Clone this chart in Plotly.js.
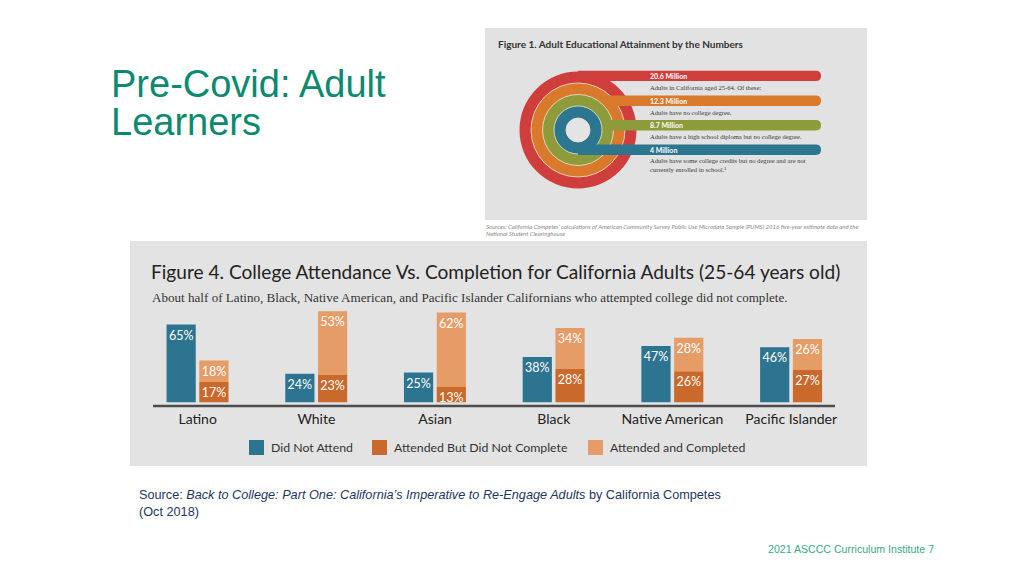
<!DOCTYPE html>
<html>
<head>
<meta charset="utf-8">
<script src="https://cdn.plot.ly/plotly-3.0.1.min.js"></script>
<style>
  html, body { margin: 0; padding: 0; background: #ffffff; }
  #chart { width: 1024px; height: 576px; }
</style>
</head>
<body>
<div id="chart"></div>
<script>
// ---------- Data: Figure 4 ----------
const categories = ['Latino', 'White', 'Asian', 'Black', 'Native American', 'Pacific Islander'];
const didNotAttend = [65, 24, 25, 38, 47, 46];
const attendedNotComplete = [17, 23, 13, 28, 26, 27];
const attendedCompleted = [18, 53, 62, 34, 28, 26];
const seriesNames = ['Did Not Attend', 'Attended But Did Not Complete', 'Attended and Completed'];

// ---------- Data: Figure 1 ----------
const fig1Amounts = ['20.6 Million', '12.3 Million', '8.7 Million', '4 Million'];
const fig1Descriptions = [
  'Adults in California aged 25-64. Of these:',
  'Adults have no college degree.',
  'Adults have a high school diploma but no college degree.',
  'Adults have some college credits but no degree and are not<br>currently enrolled in school.\u00b9'
];

// ---------- Text ----------
const slideTitle = ['Pre-Covid: Adult', 'Learners'];
const fig4Title = 'Figure 4. College Attendance Vs. Completion for California Adults (25-64 years old)';
const fig4Subtitle = 'About half of Latino, Black, Native American, and Pacific Islander Californians who attempted college did not complete.';
const fig1Title = 'Figure 1. Adult Educational Attainment by the Numbers';
const fig1Sources = [
  "Sources: California Competes\u2019 calculations of American Community Survey Public Use Microdata Sample (PUMS) 2016 five-year estimate data and the",
  'National Student Clearinghouse'
];
const sourceLine1 = 'Source: <i>Back to College: Part One: California\u2019s Imperative to Re-Engage Adults</i> by California Competes';
const sourceLine2 = '(Oct 2018)';
const footer = '2021 ASCCC Curriculum Institute 7';

// ---------- Styles ----------
const W = 1024, H = 576;
const X = p => p / W;
const Y = p => 1 - p / H;
const cBlue = '#2d7491', cDark = '#c9692b', cLight = '#e59c66';
const ringColors = ['#cf3d3d', '#d9792b', '#8d9b3b', '#2c7690'];
const figFont = 'Lato, "Open Sans", sans-serif';
const teal = '#0b8a70';

const pct = arr => arr.map(v => v + '%');
const barText = {
  textposition: 'inside', insidetextanchor: 'end', textangle: 0, constraintext: 'none',
  textfont: { family: figFont, size: 12.5, color: '#ffffff' }, hoverinfo: 'skip'
};

const traces = [
  Object.assign({
    type: 'bar', name: seriesNames[0], x: categories, y: didNotAttend, text: pct(didNotAttend),
    offset: -0.262, width: 0.246, marker: { color: cBlue, line: { width: 0 } }
  }, barText),
  Object.assign({
    type: 'bar', name: seriesNames[1], x: categories, y: attendedNotComplete, text: pct(attendedNotComplete),
    offset: 0.014, width: 0.246, marker: { color: cDark, line: { width: 0 } }
  }, barText),
  Object.assign({
    type: 'bar', name: seriesNames[2], x: categories, y: attendedCompleted, base: attendedNotComplete,
    text: pct(attendedCompleted),
    offset: 0.014, width: 0.246, marker: { color: cLight, line: { width: 0 } }
  }, barText)
];

// ---------- Shapes ----------
const shapes = [];
const rect = (x0, y0, x1, y1, color, extra) => Object.assign({
  type: 'rect', xref: 'paper', yref: 'paper', x0: X(x0), x1: X(x1), y0: Y(y0), y1: Y(y1),
  fillcolor: color, line: { width: 0 }, layer: 'below'
}, extra || {});

// Figure boxes
shapes.push(rect(485, 28, 867, 220, '#e2e2e2'));
shapes.push(rect(130, 241, 867, 466, '#e3e3e3'));

// Figure 1 rings and bars
const cx = 578, cy = 130;
const radii = [58.5, 47, 35.5, 24];
const barTops = [70.7, 95.6, 120, 144.5];
const barH = 10.4, barEnd = 821;
const circle = (r, color, lineColor) => ({
  type: 'circle', xref: 'paper', yref: 'paper',
  x0: X(cx - r), x1: X(cx + r), y0: Y(cy - r), y1: Y(cy + r),
  fillcolor: color, line: { width: lineColor ? 0.8 : 0, color: lineColor || color }, layer: 'below'
});
const roundedBar = (top, color) => {
  const bot = top + barH, rr = barH / 2;
  const p = (x, y) => X(x) + ',' + Y(y);
  return {
    type: 'path', xref: 'paper', yref: 'paper', layer: 'below',
    path: 'M' + p(cx, top) + ' L' + p(barEnd - rr, top) + ' Q' + p(barEnd, top) + ' ' + p(barEnd, top + rr) +
          ' Q' + p(barEnd, bot) + ' ' + p(barEnd - rr, bot) + ' L' + p(cx, bot) + ' Z',
    fillcolor: color, line: { width: 0 }
  };
};
for (let i = 0; i < radii.length; i++) {
  shapes.push(circle(radii[i], ringColors[i], i > 0 ? '#efe6da' : null));
  shapes.push(roundedBar(barTops[i], ringColors[i]));
}
shapes.push(circle(12, '#e4e4e4', '#efe6da'));

// Baseline
shapes.push({
  type: 'line', xref: 'paper', yref: 'paper', x0: X(153), x1: X(835), y0: Y(406), y1: Y(406),
  line: { color: '#4d4d4d', width: 2.4 }, layer: 'below'
});

// Legend squares
const legendX = [249, 372, 588];
const legendColors = [cBlue, cDark, cLight];
legendX.forEach((lx, i) => shapes.push(rect(lx, 440, lx + 15, 455, legendColors[i])));

// ---------- Annotations ----------
const ann = (text, x, y, font, extra) => Object.assign({
  text: text, xref: 'paper', yref: 'paper', x: X(x), y: Y(y), xanchor: 'left', yanchor: 'middle',
  showarrow: false, font: font, borderpad: 0
}, extra || {});
const annotations = [];

annotations.push(ann(slideTitle[0], 110, 83.5, { family: '"Liberation Sans", Arial, sans-serif', size: 38, color: teal }));
annotations.push(ann(slideTitle[1], 110, 121.8, { family: '"Liberation Sans", Arial, sans-serif', size: 38, color: teal }));

annotations.push(ann(fig1Title, 497, 43.7, { family: figFont, size: 10, color: '#333333', weight: 'bold' }));
const amountY = [75.8, 100.8, 125.1, 149.6];
const descY = [87.3, 112.3, 136.7, 165];
for (let i = 0; i < fig1Amounts.length; i++) {
  annotations.push(ann(fig1Amounts[i], 649, amountY[i], { family: figFont, size: 7, color: '#ffffff', weight: 'bold' }));
  annotations.push(ann(fig1Descriptions[i], 649, descY[i], { family: '"Liberation Serif", "DejaVu Serif", serif', size: 6.6, color: '#3a3a3a' }, { align: 'left' }));
}
annotations.push(ann('<i>' + fig1Sources[0] + '</i>', 485, 226.3, { family: figFont, size: 6, color: '#8a8a8a' }));
annotations.push(ann('<i>' + fig1Sources[1] + '</i>', 485, 233.6, { family: figFont, size: 6, color: '#8a8a8a' }));

annotations.push(ann(fig4Title, 150, 271.3, { family: figFont, size: 19.1, color: '#222222' }));
annotations.push(ann(fig4Subtitle, 151, 297.5, { family: '"Liberation Serif", "DejaVu Serif", serif', size: 13.1, color: '#333333' }));

const legendTextX = [270, 393, 609];
seriesNames.forEach((n, i) => annotations.push(ann(n, legendTextX[i], 447.5, { family: figFont, size: 12.3, color: '#333333' })));

annotations.push(ann(sourceLine1, 138, 494.5, { family: '"Liberation Sans", Arial, sans-serif', size: 12.7, color: '#1f3560' }));
annotations.push(ann(sourceLine2, 138, 511.5, { family: '"Liberation Sans", Arial, sans-serif', size: 12.7, color: '#1f3560' }));
annotations.push(ann(footer, 767, 549, { family: '"Liberation Sans", Arial, sans-serif', size: 10.6, color: '#3aa886' }));

// ---------- Layout ----------
const plotTop = 300.5, plotBottom = 402.5, yMax = 85;
const layout = {
  width: W, height: H,
  margin: { l: 0, r: 0, t: 0, b: 0, pad: 0 },
  paper_bgcolor: '#ffffff', plot_bgcolor: 'rgba(0,0,0,0)',
  showlegend: false, barmode: 'overlay',
  xaxis: {
    domain: [X(153.5), X(835)], type: 'category', range: [-0.372, 5.369],
    showline: false, showgrid: false, zeroline: false, ticks: '',
    tickfont: { family: figFont, size: 14, color: '#222222' }, ticklabelstandoff: 6, fixedrange: true
  },
  yaxis: {
    domain: [Y(plotBottom), Y(plotTop)], range: [0, yMax], visible: false, fixedrange: true
  },
  shapes: shapes,
  annotations: annotations
};

Plotly.newPlot('chart', traces, layout, { displayModeBar: false, staticPlot: true });
</script>
</body>
</html>
